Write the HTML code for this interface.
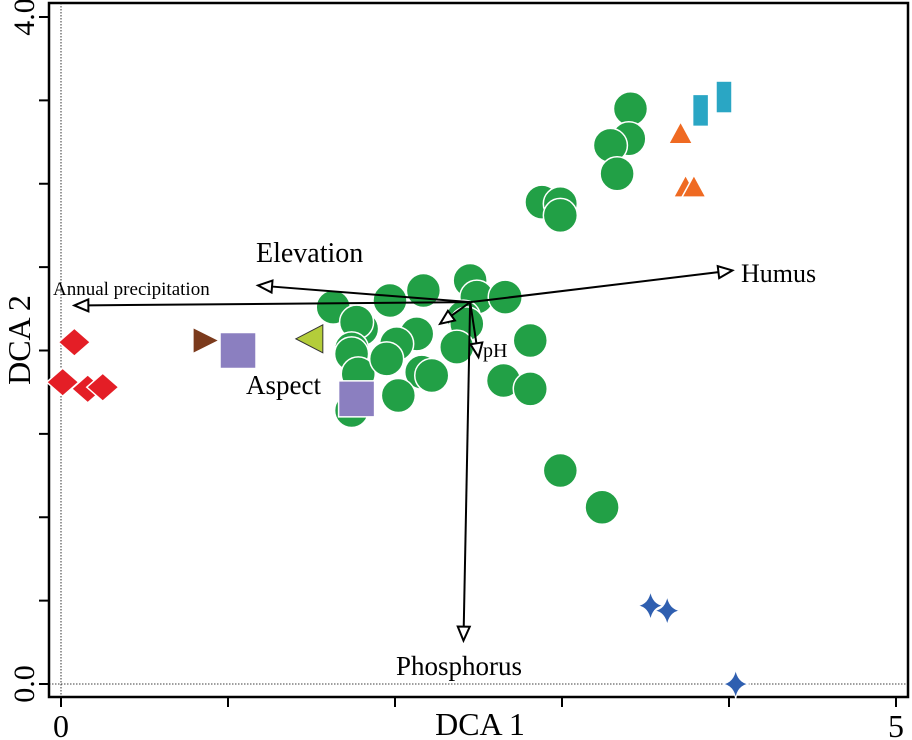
<!DOCTYPE html>
<html><head><meta charset="utf-8"><style>
body{margin:0;background:#fff}
svg{display:block;font-family:"Liberation Serif",serif}
</style></head><body>
<svg id="chart" width="912" height="740" viewBox="0 0 912 740" xmlns="http://www.w3.org/2000/svg">
<rect x="49" y="3" width="859" height="694" fill="none" stroke="#000" stroke-width="2.5"/>
<g id="axes"></g>
<g id="marks"></g>
<g id="arrows"></g>
<text x="480" y="735" font-size="32" text-anchor="middle">DCA 1</text>
<text transform="translate(30,340) rotate(-90)" font-size="32" text-anchor="middle">DCA 2</text>
</svg>
<script>
const greenX=[3.41,3.40,3.29,3.33,2.88,2.99,2.99,1.80,1.63,1.77,1.74,1.74,1.78,1.74,1.97,2.17,2.45,2.49,2.66,2.41,2.43,2.13,2.01,1.95,2.16,2.22,2.02,2.37,2.81,2.65,2.81,2.99,3.24];
const greenY=[3.45,3.27,3.23,3.06,2.89,2.88,2.81,2.13,2.26,2.17,2.01,1.98,1.86,1.64,2.30,2.36,2.42,2.32,2.32,2.20,2.16,2.10,2.04,1.95,1.87,1.85,1.73,2.02,2.06,1.82,1.77,1.28,1.06];
const redX=[0.08,0.01,0.16,0.25], redY=[2.05,1.81,1.77,1.78];
const brownX=[0.86], brownY=[2.06];
const purpleX=[1.06,1.77], purpleY=[2.00,1.71];
const limeX=[1.49], limeY=[2.07];
const cyanX=[3.83,3.97], cyanY=[3.44,3.52];
const orangeX=[3.71,3.74,3.79], orangeY=[3.30,2.98,2.98];
const blueX=[3.53,3.63,4.04], blueY=[0.47,0.44,0.00];
const arrowOrigin=[2.45,2.29];
const arrowNames=["Humus","Annual precipitation","Elevation","Phosphorus","pH","Aspect"];
const arrowX=[4.02,0.08,1.18,2.41,2.50,2.27];
const arrowY=[2.48,2.27,2.39,0.26,1.96,2.16];
const xTicks=[0,1,2,3,4,5], xTickLabels=["0","","","","","5"];
const yTicks=[0,0.5,1,1.5,2,2.5,3,3.5,4], yTickLabels=["0.0","","","","","","","","4.0"];

const NS="http://www.w3.org/2000/svg";
const sx=v=>61+167*v, sy=v=>684-166.75*v;
function mk(tag,attrs,parent){const e=document.createElementNS(NS,tag);for(const k in attrs)e.setAttribute(k,attrs[k]);parent.appendChild(e);return e;}
const ax=document.getElementById('axes'), mg=document.getElementById('marks'), ag=document.getElementById('arrows');
let l=mk('line',{x1:sx(0),x2:sx(0),y1:3,y2:697,stroke:'#000','stroke-width':0.8,'stroke-dasharray':'1.5,1.5'},ax);


l=mk('line',{x1:49,x2:908,y1:sy(0),y2:sy(0),stroke:'#000','stroke-width':0.8,'stroke-dasharray':'1.5,1.5'},ax);


xTicks.forEach((t,i)=>{
  const k=mk('line',{x1:sx(t),x2:sx(t),y1:697,y2:707,stroke:'#000','stroke-width':2},ax);
  
  
  if(xTickLabels[i]){const tx=mk('text',{x:sx(t),y:737,'font-size':32,'text-anchor':'middle'},ax);tx.textContent=xTickLabels[i];
  
  }
});
yTicks.forEach((t,i)=>{
  const k=mk('line',{x1:39,x2:49,y1:sy(t),y2:sy(t),stroke:'#000','stroke-width':2},ax);
  
  
  if(yTickLabels[i]){const tx=mk('text',{transform:`translate(34,${sy(t)}) rotate(-90)`,'font-size':30,'text-anchor':'middle'},ax);tx.textContent=yTickLabels[i];
  
  }
});
function pts(X,Y,name,fn){X.forEach((v,i)=>{const e=fn(sx(v),sy(Y[i]));
});}
pts(greenX,greenY,'green-point',(x,y)=>mk('circle',{cx:x,cy:y,r:17,fill:'#22a046',stroke:'#fff','stroke-width':1.5},mg));
pts(redX,redY,'red-diamond',(x,y)=>mk('polygon',{points:`${x-16},${y} ${x},${y-14} ${x+16},${y} ${x},${y+14}`,fill:'#e41e26',stroke:'#fff','stroke-width':1.5},mg));
pts(brownX,brownY,'brown-triangle',(x,y)=>mk('polygon',{points:`${x-11},${y-12} ${x+13},${y} ${x-11},${y+12}`,fill:'#7b3a1c'},mg));
pts(purpleX,purpleY,'purple-square',(x,y)=>mk('rect',{x:x-18,y:y-18,width:36,height:36,fill:'#8b7fc0',stroke:'#fff','stroke-width':1.5},mg));
pts(limeX,limeY,'lime-triangle',(x,y)=>mk('polygon',{points:`${x+13},${y-14} ${x-14},${y} ${x+13},${y+14}`,fill:'#b4cd3a',stroke:'#333','stroke-width':1},mg));
pts(cyanX,cyanY,'cyan-rect',(x,y)=>mk('rect',{x:x-8,y:y-16,width:16,height:32,fill:'#2aa6c4',stroke:'#fff','stroke-width':1.5},mg));
pts(orangeX,orangeY,'orange-triangle',(x,y)=>mk('polygon',{points:`${x-12},${y+10} ${x},${y-12} ${x+12},${y+10}`,fill:'#ef6a22',stroke:'#fff','stroke-width':1.5},mg));
pts(blueX,blueY,'blue-star',(x,y)=>mk('path',{d:`M${x},${y-15} Q${x+2},${y-2} ${x+13},${y} Q${x+2},${y+2} ${x},${y+15} Q${x-2},${y+2} ${x-13},${y} Q${x-2},${y-2} ${x},${y-15}Z`,fill:'#2f5fb0',stroke:'#fff','stroke-width':1},mg));
const ox=sx(arrowOrigin[0]), oy=sy(arrowOrigin[1]);
const labelPos=[[741,282,26,'start'],[53,295,19,'start'],[256,262,28,'start'],[396,675,27,'start'],[483,357,20,'start'],[246,394,27,'start']];
arrowNames.forEach((n,i)=>{
  const tx=sx(arrowX[i]), ty=sy(arrowY[i]);
  const dx=tx-ox, dy=ty-oy, L=Math.hypot(dx,dy), ux=dx/L, uy=dy/L;
  const h=14,w=6, bx=tx-ux*h, by=ty-uy*h;
  const ln=mk('line',{x1:ox,y1:oy,x2:bx,y2:by,stroke:'#000','stroke-width':2},ag);
  
  
  const hd=mk('polygon',{points:`${tx},${ty} ${bx-uy*w},${by+ux*w} ${bx+uy*w},${by-ux*w}`,fill:'#fff',stroke:'#000','stroke-width':2},ag);
  
  
  const p=labelPos[i];
  const t=mk('text',{x:p[0],y:p[1],'font-size':p[2],'text-anchor':p[3]},ag);t.textContent=n;
  
  
});
</script>
</body></html>
